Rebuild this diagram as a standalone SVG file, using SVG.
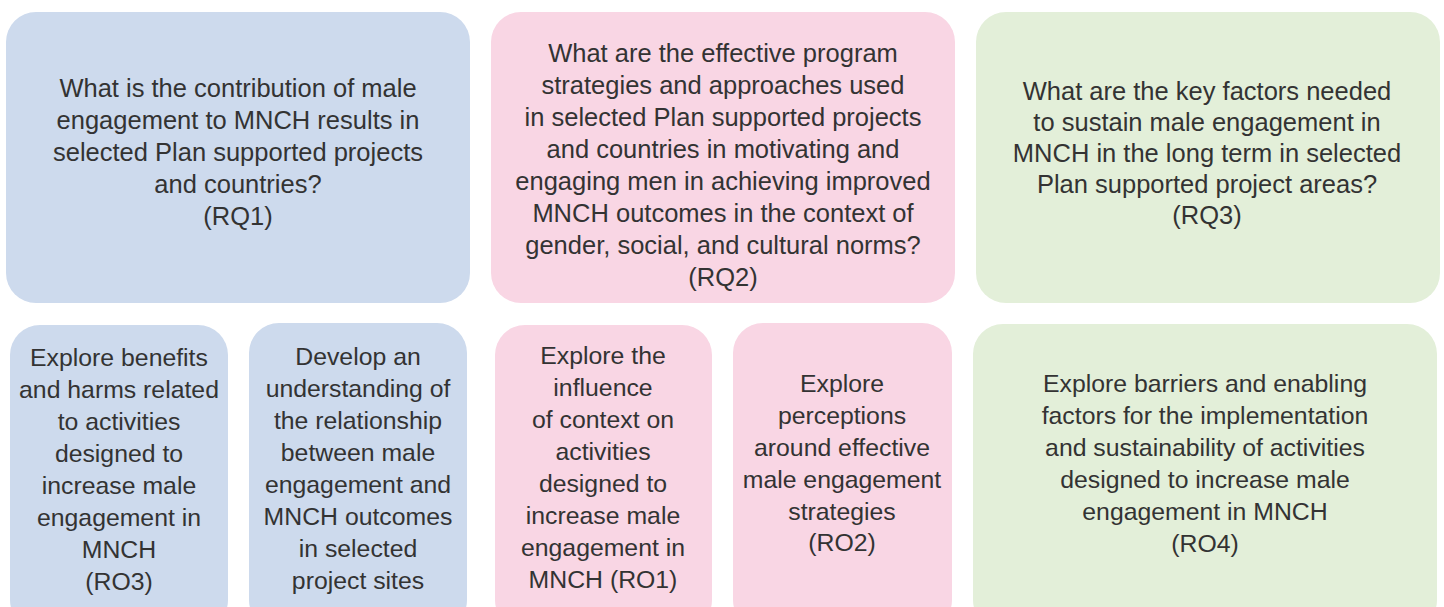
<svg xmlns="http://www.w3.org/2000/svg" width="1444" height="607" viewBox="0 0 1444 607">
<style>
.blue{fill:#cddaed}
.pink{fill:#f9d6e4}
.green{fill:#e3efd9}
text{font-family:"Liberation Sans",Arial,sans-serif;fill:#333333;text-anchor:middle}
.t{font-size:25.5px}
.b{font-size:24.8px}
</style>
<rect width="1444" height="607" fill="#ffffff"/>
<g id="rq1">
<rect class="blue" x="6" y="12" width="464" height="291" rx="30"/>
<text class="t"><tspan x="238" y="97">What is the contribution of male</tspan><tspan x="238" y="129">engagement to MNCH results in</tspan><tspan x="238" y="161">selected Plan supported projects</tspan><tspan x="238" y="193">and countries?</tspan><tspan x="238" y="225">(RQ1)</tspan></text>
</g>
<g id="rq2">
<rect class="pink" x="491" y="12" width="464" height="291" rx="30"/>
<text class="t"><tspan x="723" y="62">What are the effective program</tspan><tspan x="723" y="94">strategies and approaches used</tspan><tspan x="723" y="126">in selected Plan supported projects</tspan><tspan x="723" y="158">and countries in motivating and</tspan><tspan x="723" y="190">engaging men in achieving improved</tspan><tspan x="723" y="222">MNCH outcomes in the context of</tspan><tspan x="723" y="254">gender, social, and cultural norms?</tspan><tspan x="723" y="286">(RQ2)</tspan></text>
</g>
<g id="rq3">
<rect class="green" x="976" y="12" width="464" height="291" rx="30"/>
<text class="t"><tspan x="1207" y="100">What are the key factors needed</tspan><tspan x="1207" y="131">to sustain male engagement in</tspan><tspan x="1207" y="162">MNCH in the long term in selected</tspan><tspan x="1207" y="193">Plan supported project areas?</tspan><tspan x="1207" y="224">(RQ3)</tspan></text>
</g>
<g id="ro3">
<rect class="blue" x="10" y="325" width="218" height="305" rx="30"/>
<text class="b"><tspan x="119" y="366">Explore benefits</tspan><tspan x="119" y="398">and harms related</tspan><tspan x="119" y="430">to activities</tspan><tspan x="119" y="462">designed to</tspan><tspan x="119" y="494">increase male</tspan><tspan x="119" y="526">engagement in</tspan><tspan x="119" y="558">MNCH</tspan><tspan x="119" y="590">(RO3)</tspan></text>
</g>
<g id="ro-develop">
<rect class="blue" x="249" y="323" width="218" height="307" rx="30"/>
<text class="b"><tspan x="358" y="365">Develop an</tspan><tspan x="358" y="397">understanding of</tspan><tspan x="358" y="429">the relationship</tspan><tspan x="358" y="461">between male</tspan><tspan x="358" y="493">engagement and</tspan><tspan x="358" y="525">MNCH outcomes</tspan><tspan x="358" y="557">in selected</tspan><tspan x="358" y="589">project sites</tspan></text>
</g>
<g id="ro1">
<rect class="pink" x="495" y="325" width="217" height="305" rx="30"/>
<text class="b"><tspan x="603" y="364">Explore the</tspan><tspan x="603" y="396">influence</tspan><tspan x="603" y="428">of context on</tspan><tspan x="603" y="460">activities</tspan><tspan x="603" y="492">designed to</tspan><tspan x="603" y="524">increase male</tspan><tspan x="603" y="556">engagement in</tspan><tspan x="603" y="588">MNCH (RO1)</tspan></text>
</g>
<g id="ro2">
<rect class="pink" x="733" y="323" width="219" height="307" rx="30"/>
<text class="b"><tspan x="842" y="392">Explore</tspan><tspan x="842" y="424">perceptions</tspan><tspan x="842" y="456">around effective</tspan><tspan x="842" y="488">male engagement</tspan><tspan x="842" y="520">strategies</tspan><tspan x="842" y="551">(RO2)</tspan></text>
</g>
<g id="ro4">
<rect class="green" x="973" y="324" width="464" height="306" rx="30"/>
<text class="b"><tspan x="1205" y="392">Explore barriers and enabling</tspan><tspan x="1205" y="424">factors for the implementation</tspan><tspan x="1205" y="456">and sustainability of activities</tspan><tspan x="1205" y="488">designed to increase male</tspan><tspan x="1205" y="520">engagement in MNCH</tspan><tspan x="1205" y="552">(RO4)</tspan></text>
</g>
<g id="connectors"></g>
</svg>
